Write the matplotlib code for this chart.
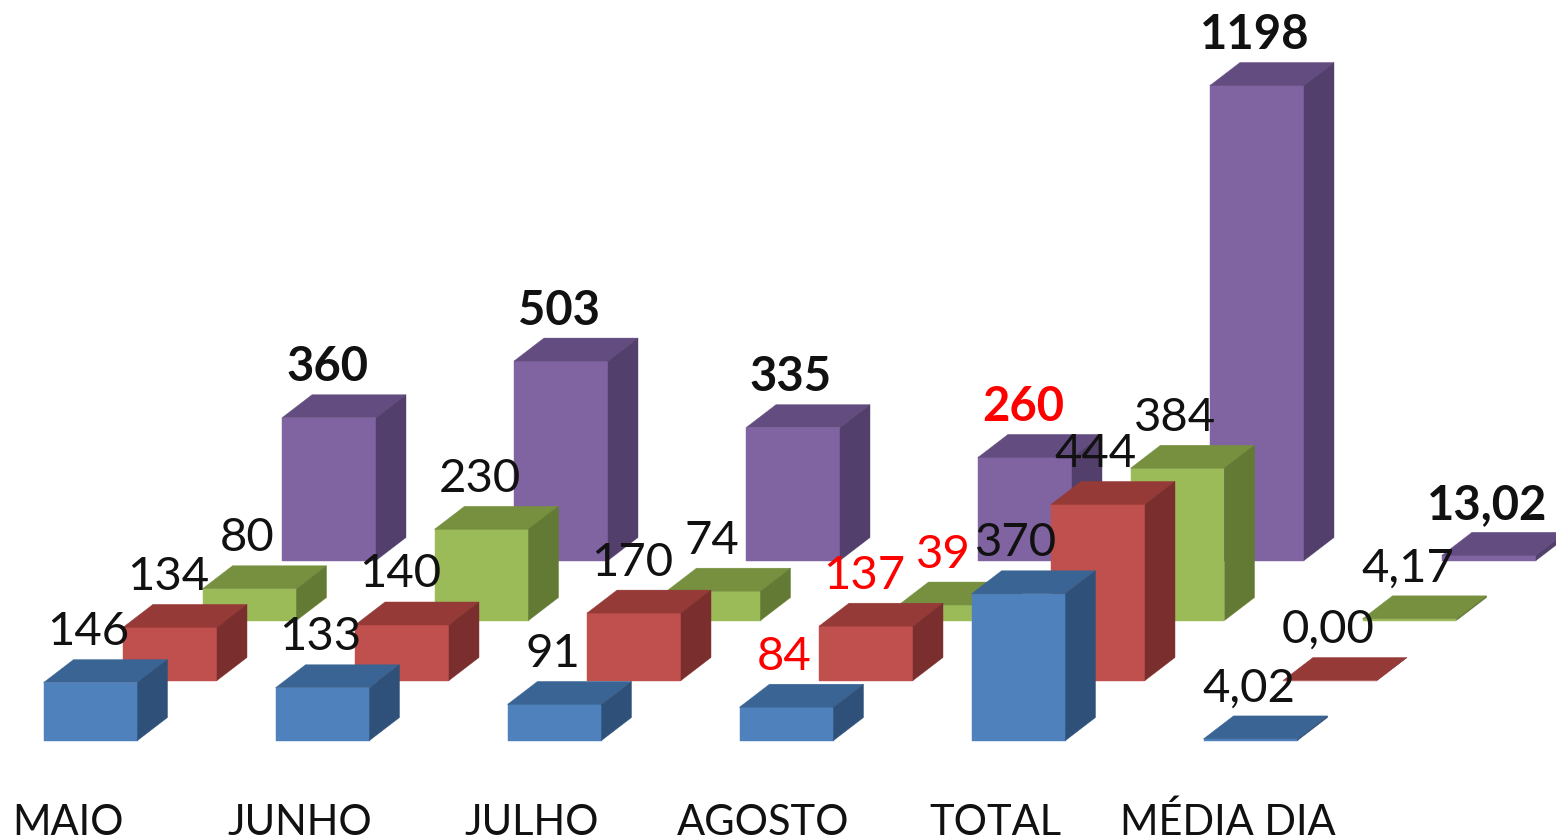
import matplotlib
matplotlib.use("Agg")
import matplotlib.pyplot as plt
from matplotlib.patches import Polygon

plt.rcParams['font.family'] = ['Lato', 'DejaVu Sans']

# Data
categories = ["MAIO", "JUNHO", "JULHO", "AGOSTO", "TOTAL", "MÉDIA DIA"]
serie_1 = [146, 133, 91, 84, 370, 4.02]
serie_2 = [134, 140, 170, 137, 444, 0.00]
serie_3 = [80, 230, 74, 39, 384, 4.17]
serie_4 = [360, 503, 335, 260, 1198, 13.02]

labels_1 = ["146", "133", "91", "84", "370", "4,02"]
labels_2 = ["134", "140", "170", "137", "444", "0,00"]
labels_3 = ["80", "230", "74", "39", "384", "4,17"]
labels_4 = ["360", "503", "335", "260", "1198", "13,02"]

# Colours: front, top, side
colors_1 = ("#4f81bd", "#3a6494", "#2f5078")
colors_2 = ("#c0504d", "#963a38", "#7a2e2d")
colors_3 = ("#9bbb59", "#769040", "#637a35")
colors_4 = ("#8064a2", "#634c80", "#533f6b")

# Pixels per category and per unit of value
W, H = 1556, 838
PX_CAT = 232
PX_VAL = 0.3965
LEFT = 43.5
BASE = 740.5

BAR_W = 94 / PX_CAT
DEPTH_X = 30 / PX_CAT
DEPTH_Y = 23 / PX_VAL
STEP_X = 79.5 / PX_CAT
STEP_Y = 60 / PX_VAL
LABEL_Y = 27.5 / PX_VAL

fig = plt.figure(figsize=(W / 100, H / 100), dpi=100)
ax = fig.add_axes([0, 0, 1, 1])
ax.set_xlim(-LEFT / PX_CAT, (W - LEFT) / PX_CAT)
ax.set_ylim(-(H - BASE) / PX_VAL, BASE / PX_VAL)
ax.axis("off")


def draw_bar(x, y0, value, colors, z):
    front, top, side = colors
    y1 = y0 + value
    ax.add_patch(Polygon([(x, y0), (x + BAR_W, y0), (x + BAR_W, y1), (x, y1)],
                         fc=front, ec=front, lw=0.3, zorder=z))
    ax.add_patch(Polygon([(x, y1), (x + BAR_W, y1), (x + BAR_W + DEPTH_X, y1 + DEPTH_Y), (x + DEPTH_X, y1 + DEPTH_Y)],
                         fc=top, ec=top, lw=0.3, zorder=z))
    ax.add_patch(Polygon([(x + BAR_W, y0), (x + BAR_W + DEPTH_X, y0 + DEPTH_Y), (x + BAR_W + DEPTH_X, y1 + DEPTH_Y), (x + BAR_W, y1)],
                         fc=side, ec=side, lw=0.3, zorder=z))


series = [
    (serie_4, labels_4, colors_4, 3),
    (serie_3, labels_3, colors_3, 2),
    (serie_2, labels_2, colors_2, 1),
    (serie_1, labels_1, colors_1, 0),
]

for values, texts, colors, row in series:
    for i, value in enumerate(values):
        x = i + row * STEP_X
        y0 = row * STEP_Y
        draw_bar(x, y0, value, colors, 10 - row)

        # August labels are red, the fourth series is bold
        color = "red" if i == 3 else "#111111"
        weight = "bold" if row == 3 else "normal"
        ax.text(x + BAR_W / 2 - 2 / PX_CAT, y0 + value + DEPTH_Y + LABEL_Y, texts[i],
                ha="center", va="center", fontsize=34, color=color,
                fontweight=weight, zorder=20)

for i, name in enumerate(categories):
    ax.text(i + 24 / PX_CAT, -82 / PX_VAL, name, ha="center", va="center",
            fontsize=30, color="#111111", zorder=20)

fig.savefig("out.png", dpi=100)
